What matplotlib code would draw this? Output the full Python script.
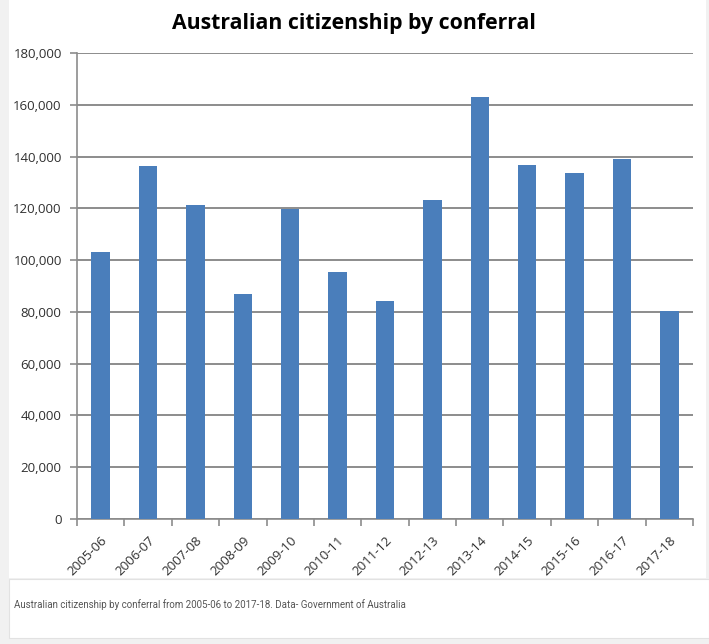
import matplotlib.pyplot as plt
from matplotlib.patches import Rectangle
from matplotlib.ticker import FuncFormatter
import numpy as np

years = ["2005-06", "2006-07", "2007-08", "2008-09", "2009-10", "2010-11", "2011-12",
         "2012-13", "2013-14", "2014-15", "2015-16", "2016-17", "2017-18"]
conferrals = [103200, 136300, 121200, 86900, 119900, 95300, 84300,
              123300, 163000, 136600, 133800, 139200, 80500]
y_ticks = list(range(0, 180001, 20000))

title = "Australian citizenship by conferral"
caption = "Australian citizenship by conferral from 2005-06 to 2017-18. Data- Government of Australia"

W, H = 709, 644
fig = plt.figure(figsize=(W / 100, H / 100), dpi=100)
fig.patch.set_facecolor("#f1f1f1")


def px_rect(x0, y0, x1, y1, **kw):
    # rectangle in pixel coordinates (top-left origin)
    fig.patches.append(Rectangle((x0 / W, 1 - y1 / H), (x1 - x0) / W, (y1 - y0) / H,
                                 transform=fig.transFigure, figure=fig, **kw))


px_rect(9, 0, 706, 578, facecolor="white", edgecolor="none", zorder=-2)
px_rect(9, 579, 709, 638, facecolor="white", edgecolor="#e2e2e2", linewidth=0.8, zorder=-2)

ax = fig.add_axes([77 / W, 1 - 519 / H, (693 - 77) / W, (519 - 53) / H])
ax.set_zorder(2)
ax.set_facecolor("none")

x = np.arange(len(years))
ax.bar(x, conferrals, width=0.39, color="#4a7ebb", zorder=3)

ax.set_xlim(-0.5, len(years) - 0.5)
ax.set_ylim(0, 180000)
ax.set_yticks(y_ticks)
ax.yaxis.set_major_formatter(FuncFormatter(lambda v, p: "{:,}".format(int(v))))
ax.grid(axis="y", color="#8c8c8c", linewidth=1.4, zorder=1)

ax.set_xticks(x)
ax.set_xticklabels(years, rotation=45, ha="right", rotation_mode="anchor")
ax.set_xticks(np.arange(-0.5, len(years)), minor=True)
ax.tick_params(axis="x", which="major", length=0, pad=11, labelsize=9.5, labelcolor="#303030")
ax.tick_params(axis="x", which="minor", length=5, color="#8c8c8c", width=1.2)
ax.tick_params(axis="y", length=5, color="#8c8c8c", width=1.2, labelsize=9.5,
               labelcolor="#303030", pad=6)
for lab in ax.get_xticklabels() + ax.get_yticklabels():
    lab.set_family("Open Sans")

for side in ["top", "right"]:
    ax.spines[side].set_visible(False)
for side in ["left", "bottom"]:
    ax.spines[side].set_color("#8c8c8c")
    ax.spines[side].set_linewidth(1.2)

fig.text(354 / W, 1 - 23 / H, title, ha="center", va="center", fontsize=15.3,
         fontweight="bold", family="Open Sans", color="black")
fig.text(14 / W, 1 - 605 / H, caption, ha="left", va="center", fontsize=7.0,
         family="Roboto", color="#555555")

fig.savefig("out.png", dpi=100)
